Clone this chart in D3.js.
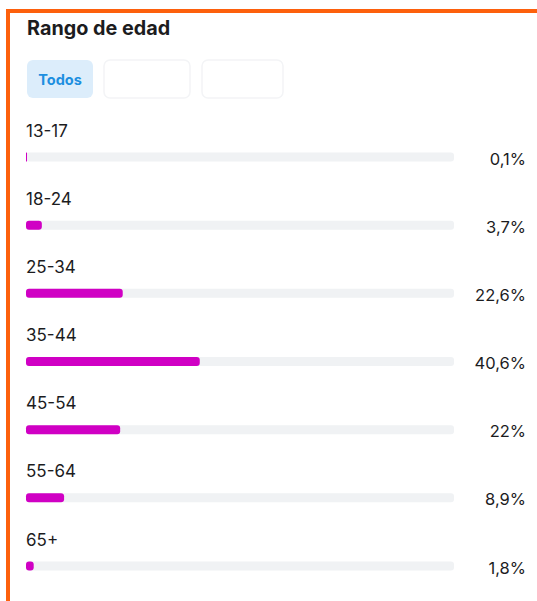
<!DOCTYPE html>
<html>
<head>
<meta charset="utf-8">
<script src="https://cdn.jsdelivr.net/npm/d3@7"></script>
<style>
  html, body { margin: 0; padding: 0; background: #fff; }
  svg { display: block; }
</style>
</head>
<body>
<div id="chart"></div>
<script>
const categories = ["13-17", "18-24", "25-34", "35-44", "45-54", "55-64", "65+"];
const values = [0.1, 3.7, 22.6, 40.6, 22, 8.9, 1.8];
const valueLabels = ["0,1%", "3,7%", "22,6%", "40,6%", "22%", "8,9%", "1,8%"];
const title = "Rango de edad";
const tabs = ["Todos", "", ""];

const W = 537, H = 601;
const svg = d3.select("#chart").append("svg").attr("width", W).attr("height", H);
const font = "Inter, 'Liberation Sans', Arial, sans-serif";

// orange frame
svg.append("rect").attr("x", 6).attr("y", 9).attr("width", W - 6).attr("height", 4).attr("fill", "#fd600c");
svg.append("rect").attr("x", 6).attr("y", 9).attr("width", 4).attr("height", H - 9).attr("fill", "#fd600c");

// title
svg.append("text").attr("x", 27).attr("y", 35).text(title)
  .attr("font-family", font).attr("font-weight", 700).attr("font-size", 19.8).attr("fill", "#1c1c1e");

// tabs
const tabX = [27, 104, 202], tabW = [66, 86, 81];
tabs.forEach((t, i) => {
  const g = svg.append("g");
  g.append("rect").attr("x", tabX[i]).attr("y", 60).attr("width", tabW[i]).attr("height", 38).attr("rx", 6)
    .attr("fill", i === 0 ? "#dcedfb" : "#ffffff")
    .attr("stroke", i === 0 ? "none" : "#f3f4f6").attr("stroke-width", 1.5);
  if (t) {
    g.append("text").attr("x", tabX[i] + tabW[i] / 2).attr("y", 84.5).attr("text-anchor", "middle").text(t)
      .attr("font-family", font).attr("font-weight", 700).attr("font-size", 14.5).attr("fill", "#1d8fe0");
  }
});

// scales
const x = d3.scaleLinear().domain([0, 100]).range([26, 454]);
const y = d3.scalePoint().domain(categories).range([157, 566]);
const barH = 9;

const rows = svg.append("g").selectAll("g").data(categories).join("g")
  .attr("transform", d => `translate(0,${y(d)})`);

rows.append("rect").attr("x", x(0)).attr("y", -barH / 2).attr("width", x(100) - x(0)).attr("height", barH)
  .attr("rx", 3).attr("fill", "#f0f2f4");

rows.append("rect").attr("x", x(0)).attr("y", -barH / 2)
  .attr("width", (d, i) => Math.max(x(values[i]) - x(0), 1))
  .attr("height", barH)
  .attr("rx", (d, i) => Math.min(3, (x(values[i]) - x(0)) / 2))
  .attr("fill", "#d000c4");

rows.append("text").attr("x", 26).attr("y", -20.5).text(d => d)
  .attr("font-family", font).attr("font-size", 17).attr("fill", "#1c1c1e");

rows.append("text").attr("x", 526).attr("y", 7.5).attr("text-anchor", "end").text((d, i) => valueLabels[i])
  .attr("font-family", font).attr("font-size", 16.5).attr("fill", "#1c1c1e");
</script>
</body>
</html>
